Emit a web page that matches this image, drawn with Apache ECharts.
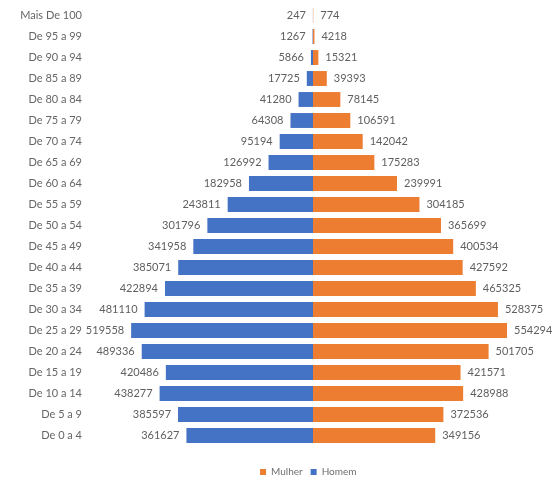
<!DOCTYPE html>
<html>
<head>
<meta charset="utf-8">
<script src="https://cdn.jsdelivr.net/npm/echarts@6/dist/echarts.min.js"></script>
<style>
  html, body { margin: 0; padding: 0; background: #fff; }
  #chart { width: 559px; height: 483px; }
</style>
</head>
<body>
<div id="chart"></div>
<script>
// faixas etárias, de cima para baixo
const faixas = ['Mais De 100', 'De 95 a 99', 'De 90 a 94', 'De 85 a 89', 'De 80 a 84',
  'De 75 a 79', 'De 70 a 74', 'De 65 a 69', 'De 60 a 64', 'De 55 a 59', 'De 50 a 54',
  'De 45 a 49', 'De 40 a 44', 'De 35 a 39', 'De 30 a 34', 'De 25 a 29', 'De 20 a 24',
  'De 15 a 19', 'De 10 a 14', 'De 5 a 9', 'De 0 a 4']
const homem = [247, 1267, 5866, 17725, 41280, 64308, 95194, 126992, 182958, 243811, 301796,
  341958, 385071, 422894, 481110, 519558, 489336, 420486, 438277, 385597, 361627]
const mulher = [774, 4218, 15321, 39393, 78145, 106591, 142042, 175283, 239991, 304185, 365699,
  400534, 427592, 465325, 528375, 554294, 501705, 421571, 428988, 372536, 349156]

const chart = echarts.init(document.getElementById('chart'))
const fonte = 'Lato, "Open Sans", sans-serif'

chart.setOption({
  backgroundColor: '#ffffff',
  animation: false,
  grid: {
    top: 5,
    bottom: 37,
    left: 103,
    right: 36
  },
  legend: {
    data: ['Mulher', 'Homem'],
    bottom: 1,
    left: 255,
    icon: 'rect',
    itemWidth: 6,
    itemHeight: 6,
    itemGap: 8,
    textStyle: { color: '#6f6f6f', fontSize: 10, fontFamily: fonte }
  },
  xAxis: {
    type: 'value',
    min: -600000,
    max: 600000,
    show: false
  },
  yAxis: {
    type: 'category',
    data: faixas,
    inverse: true,
    axisLine: { show: false },
    axisTick: { show: false },
    axisLabel: {
      color: '#666666',
      fontSize: 11,
      fontFamily: fonte,
      margin: 21
    }
  },
  series: [
    {
      name: 'Homem',
      type: 'bar',
      stack: 'pop',
      barCategoryGap: '29%',
      itemStyle: { color: '#4472C4' },
      label: {
        show: true,
        position: 'left',
        distance: 7,
        color: '#5f5f5f',
        fontSize: 11,
        fontFamily: fonte,
        formatter: (p) => Math.abs(p.value)
      },
      data: homem.map(v => -v)
    },
    {
      name: 'Mulher',
      type: 'bar',
      stack: 'pop',
      barCategoryGap: '29%',
      itemStyle: { color: '#ED7D31' },
      label: {
        show: true,
        position: 'right',
        distance: 7,
        color: '#5f5f5f',
        fontSize: 11,
        fontFamily: fonte
      },
      data: mulher
    }
  ]
})
</script>
</body>
</html>
